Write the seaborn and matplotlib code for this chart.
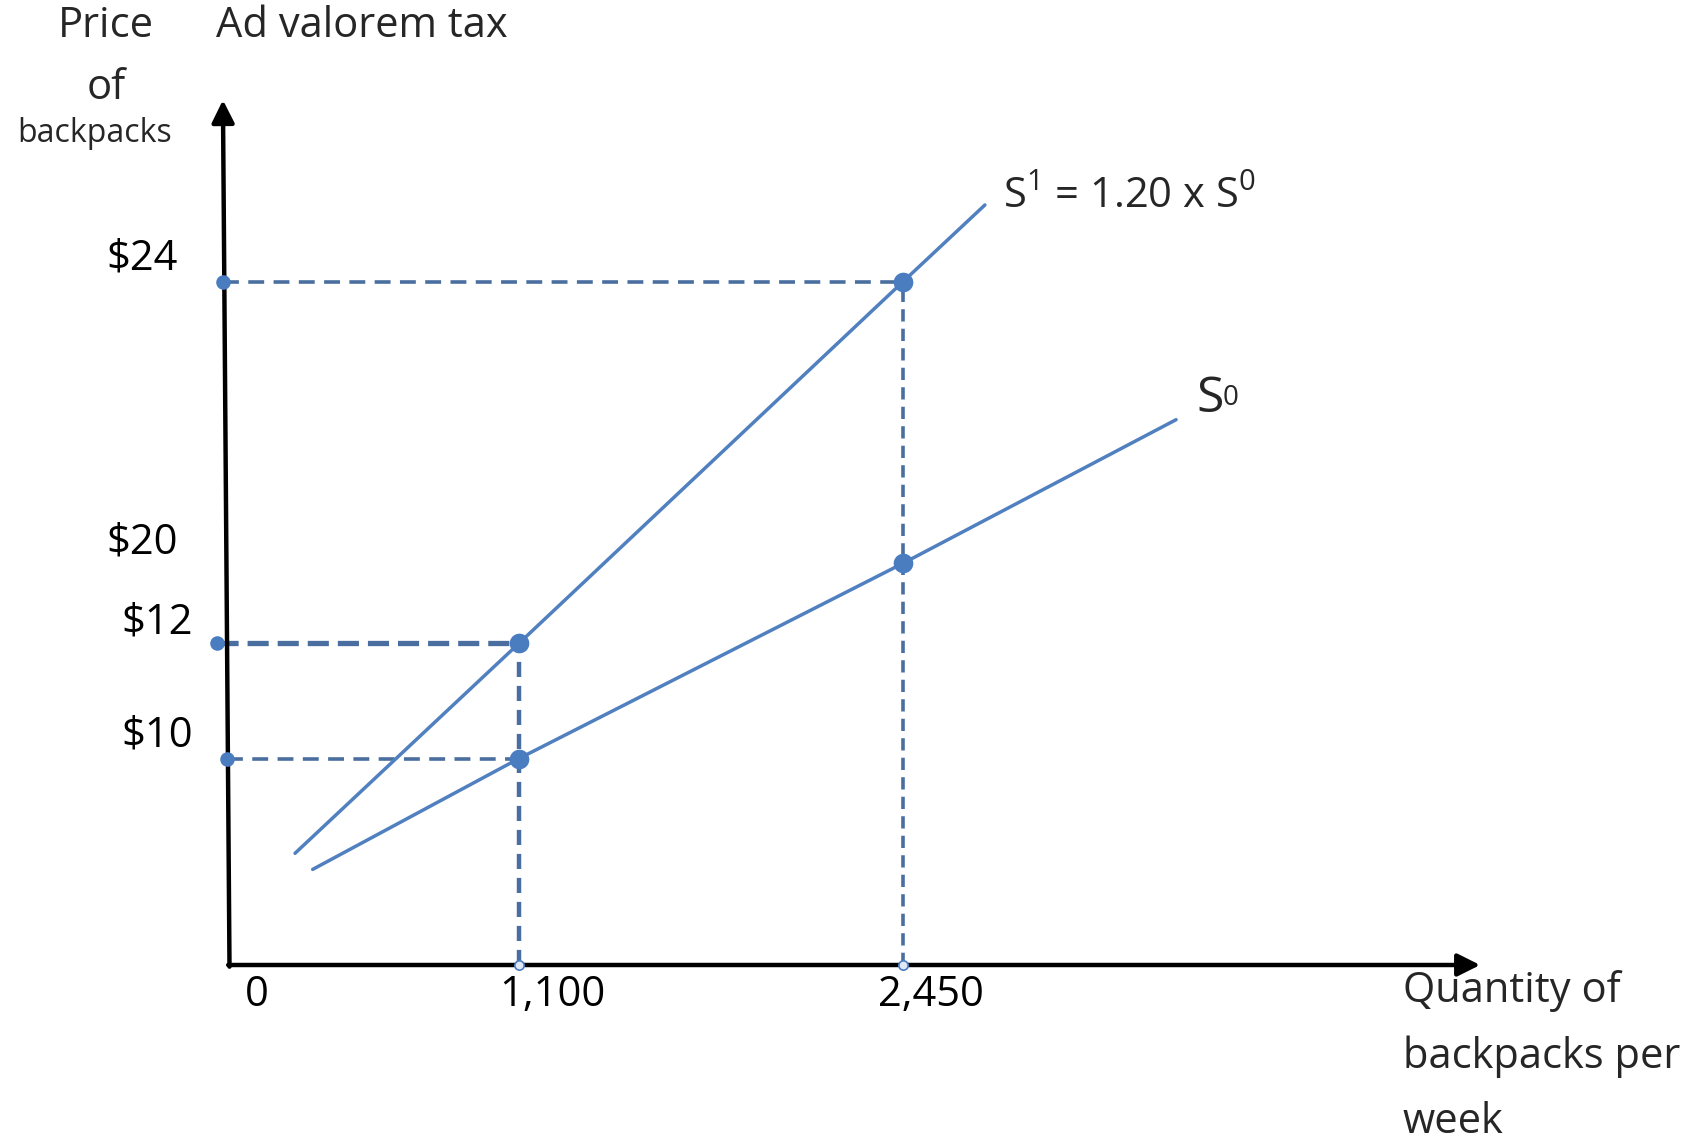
import numpy as np
import pandas as pd
import matplotlib
matplotlib.use("Agg")
import matplotlib.pyplot as plt
import seaborn as sns

# ---------------- data ----------------
eq_quantity = [1100, 2450]          # quantities marked on the x axis
price_s0 = [10, 20]                 # S0 price at those quantities
price_s1 = [12, 24]                 # S1 = 1.20 x S0
x_tick_values = [0, 1100, 2450]
x_tick_labels = ["0", "1,100", "2,450"]
y_tick_values = [24, 20, 12, 10]
y_tick_labels = ["$24", "$20", "$12", "$10"]

# supply curves (incl. curve ends)
s0_quantity = [316, 1100, 2450, 3410]
s0_price = [4.63, 10, 20, 22.04]
s1_quantity = [249, 1100, 2450, 2738]
s1_price = [5.41, 12, 24, 25.09]

# ---------------- schematic (non-linear) axis scales ----------------
W, H = 1692, 1142
X_ANCH_VAL = [0, 1100, 2450]
X_ANCH_PX = [229.5, 519, 903]
Y_ANCH_VAL = [0, 10, 12, 20, 24]
Y_ANCH_PX = [H - 965, H - 758.5, H - 643.3, H - 563.3, H - 281.7]


def piecewise(xs, ys):
    xs = np.asarray(xs, float)
    ys = np.asarray(ys, float)

    def f(v):
        v = np.asarray(v, float)
        out = np.interp(v, xs, ys)
        lo_s = (ys[1] - ys[0]) / (xs[1] - xs[0])
        hi_s = (ys[-1] - ys[-2]) / (xs[-1] - xs[-2])
        out = np.where(v < xs[0], ys[0] + (v - xs[0]) * lo_s, out)
        out = np.where(v > xs[-1], ys[-1] + (v - xs[-1]) * hi_s, out)
        return out
    return f


fx, fxi = piecewise(X_ANCH_VAL, X_ANCH_PX), piecewise(X_ANCH_PX, X_ANCH_VAL)
fy, fyi = piecewise(Y_ANCH_VAL, Y_ANCH_PX), piecewise(Y_ANCH_PX, Y_ANCH_VAL)

sns.set_theme(style="white")
plt.rcParams["font.family"] = ["Open Sans", "DejaVu Sans"]
plt.rcParams["mathtext.fontset"] = "custom"
plt.rcParams["mathtext.rm"] = "Open Sans"

fig = plt.figure(figsize=(W / 100, H / 100), dpi=100)
fig.patch.set_facecolor("white")
ax = fig.add_axes([0, 0, 1, 1])
ax.set_xscale("function", functions=(fx, fxi))
ax.set_yscale("function", functions=(fy, fyi))
ax.set_xlim(float(fxi(0)), float(fxi(W)))
ax.set_ylim(float(fyi(0)), float(fyi(H)))
ax.axis("off")

CURVE = "#5080bf"
GUIDE = "#4a6e9f"
DOT = "#4a7cc0"

# ---------------- axes arrows ----------------
AXIS_QMAX = 4479
AXIS_PMAX = 26.58
arrow_kw = dict(arrowstyle="-|>", color="black", lw=3.2, mutation_scale=34,
                shrinkA=0, shrinkB=0)
ax.annotate("", xy=(AXIS_QMAX, 0), xytext=(-5, 0), arrowprops=arrow_kw)
ax.annotate("", xy=(-25, AXIS_PMAX), xytext=(0, -0.08), arrowprops=arrow_kw)

# ---------------- dashed guide lines ----------------
h_start = [-25, -48, -10]
h_price = [price_s1[1], price_s1[0], price_s0[0]]
h_end = [eq_quantity[1], eq_quantity[0] - 35, eq_quantity[0]]
h_lw = [2.6, 3.8, 2.6]
h_dash = [(4.4, 2.6), (4.0, 1.7), (4.4, 2.6)]
for q0, p, q1, lw, ds in zip(h_start, h_price, h_end, h_lw, h_dash):
    ax.plot([q0, q1], [p, p], color=GUIDE, lw=lw, dashes=ds, zorder=2)
    ax.scatter([q0], [p], s=110, color=DOT, zorder=4, linewidths=0)

v_top = [price_s1[0], price_s1[1]]
v_lw = [3.2, 2.6]
for q, ptop, lw in zip(eq_quantity, v_top, v_lw):
    ax.plot([q, q], [0, ptop], color=GUIDE, lw=lw, dashes=(3.4, 2.0), zorder=2)
    ax.scatter([q], [0], s=45, facecolor="#dfe8f4", edgecolor=DOT, linewidths=1.2, zorder=4)

# ---------------- supply curves (seaborn) ----------------
curves = pd.DataFrame({
    "quantity": s0_quantity + s1_quantity,
    "price": s0_price + s1_price,
    "curve": ["S0"] * len(s0_quantity) + ["S1"] * len(s1_quantity),
})
sns.lineplot(data=curves, x="quantity", y="price", hue="curve", sort=False,
             estimator=None, palette={"S0": CURVE, "S1": CURVE}, lw=2.5,
             legend=False, ax=ax, zorder=3)

pts = pd.DataFrame({"quantity": eq_quantity * 2, "price": price_s0 + price_s1})
sns.scatterplot(data=pts, x="quantity", y="price", s=200, color=DOT,
                edgecolor=DOT, linewidth=0, ax=ax, zorder=5)
ax.set_xlabel("")
ax.set_ylabel("")

# ---------------- tick labels ----------------
FS = 30
x_off = [27, 33, 28]
for v, lab, dx in zip(x_tick_values, x_tick_labels, x_off):
    ax.annotate(lab, xy=(v, 0), xytext=(dx, -41), textcoords="offset pixels",
                ha="center", va="baseline", fontsize=FS, color="black")
y_right = [178, 178, 193, 193]
y_up = [12, 10, 10, 12]
for v, lab, xr, du in zip(y_tick_values, y_tick_labels, y_right, y_up):
    ax.annotate(lab, xy=(0, v), xytext=(xr - X_ANCH_PX[0], du),
                textcoords="offset pixels", ha="right", va="baseline",
                fontsize=FS, color="black")


# ---------------- titles / annotations ----------------
def ftext(x, y, s, **kw):
    fig.text(x / W, 1 - y / H, s, **kw)


ftext(106, 26, "Price", ha="center", va="center", fontsize=FS)
ftext(216, 26, "Ad valorem tax", ha="left", va="center", fontsize=FS)
ftext(106, 88, "of", ha="center", va="center", fontsize=FS)
ftext(95, 134, "backpacks", ha="center", va="center", fontsize=23)
ftext(1403, 991, "Quantity of", ha="left", va="center", fontsize=FS)
ftext(1403, 1057, "backpacks per", ha="left", va="center", fontsize=FS)
ftext(1403, 1122, "week", ha="left", va="center", fontsize=FS)

ftext(1003, 208, r"S$^{\mathregular{1}}$ = 1.20 x S$^{\mathregular{0}}$",
      ha="left", va="baseline", fontsize=FS)
ftext(1196, 412, "S", ha="left", va="baseline", fontsize=36)
ftext(1223, 405, "0", ha="left", va="baseline", fontsize=20)

fig.savefig("out.png", dpi=100, facecolor="white")
